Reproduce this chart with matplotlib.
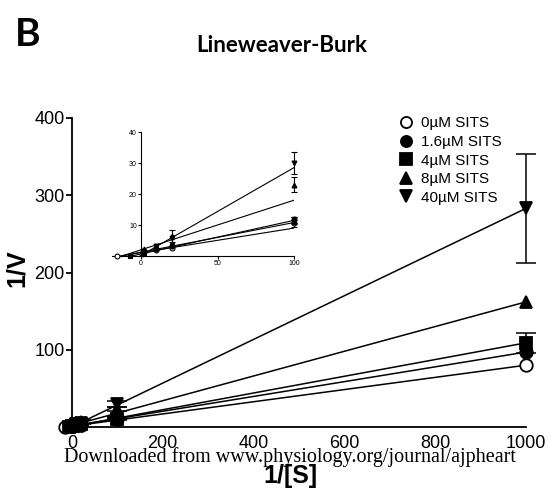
import numpy as np
import matplotlib
matplotlib.use("Agg")
import matplotlib.pyplot as plt
from matplotlib.lines import Line2D

# 1/[S] values and 1/V means for each SITS concentration
inv_s = [1, 2, 10, 20, 100, 1000]
labels = ["0µM SITS", "1.6µM SITS", "4µM SITS", "8µM SITS", "40µM SITS"]
markers = ["o", "o", "s", "^", "v"]
filled = [False, True, True, True, True]

inv_v = [
    [1.1, 1.3, 2.0, 2.7, 10.5, 80],
    [1.3, 1.5, 2.3, 3.2, 12.0, 97],
    [0.8, 1.0, 2.6, 3.5, 11.0, 109],
    [2.0, 2.3, 3.0, 6.5, 23.0, 162],
    [0.6, 0.9, 3.3, 5.8, 30.0, 283],
]
inv_v_err = [
    [0, 0, 0, 0, 0.3, 0],
    [0, 0, 0, 0, 0.5, 0],
    [0, 0, 0, 0, 1.5, 13],
    [0, 0, 0, 2.0, 2.5, 0],
    [0, 0, 0, 0, 3.7, 71],
]
# points on the x axis (x-intercepts) shown for two series
x_int_pts = {0: -15.5, 2: -7.0}

# linear regression lines (slope, intercept)
slopes = [0.0789, 0.0958, 0.1083, 0.160, 0.2828]
intercepts = [1.11, 1.22, 0.67, 2.0, 0.22]

plt.rcParams["font.family"] = ["Liberation Sans", "DejaVu Sans"]

fig = plt.figure(figsize=(5.53, 4.9), dpi=100)
W, H = 553, 490


def px_axes(x0, x1, y0, y1):
    return fig.add_axes([x0 / W, 1 - y1 / H, (x1 - x0) / W, (y1 - y0) / H])


def draw(ax, ms, cap, lw, ew, big):
    for i in range(len(labels)):
        m, b = slopes[i], intercepts[i]
        xl = np.array([-b / m, 1000])
        ax.plot(xl, m * xl + b, color="black", lw=lw, zorder=2, clip_on=not big)
        fc = "black" if filled[i] else "white"
        ax.plot(inv_s, inv_v[i], markers[i], ms=ms, mec="black", mfc=fc,
                mew=ew, zorder=3, clip_on=False)
        xe = [x for x, e in zip(inv_s, inv_v_err[i]) if e > 0]
        ye = [y for y, e in zip(inv_v[i], inv_v_err[i]) if e > 0]
        ee = [e for e in inv_v_err[i] if e > 0]
        if xe:
            ax.errorbar(xe, ye, yerr=ee, fmt="none", ecolor="black",
                        capsize=cap, elinewidth=lw, capthick=lw, zorder=2.5,
                        clip_on=False)
        if i in x_int_pts:
            ax.plot([x_int_pts[i]], [0], markers[i], ms=ms, mec="black",
                    mfc=fc, mew=ew, zorder=3, clip_on=False)


# main axes
ax = px_axes(65, 526, 118, 427)
draw(ax, 9, 7, 1.1, 1.3, True)
ax.set_xlim(-15, 1000)
ax.set_ylim(0, 400)
ax.spines["left"].set_position(("data", 0))
ax.spines["top"].set_visible(False)
ax.spines["right"].set_visible(False)
for s in ["left", "bottom"]:
    ax.spines[s].set_linewidth(1.3)
ax.set_xticks([0, 200, 400, 600, 800, 1000])
ax.set_yticks([100, 200, 300, 400])
ax.tick_params(axis="y", length=4, width=1.3, pad=1, labelsize=13)
ax.tick_params(axis="x", length=0, pad=6, labelsize=13)

handles = [Line2D([], [], ls="none", marker=markers[i], ms=8, mec="black",
                  mew=1.3, mfc="black" if filled[i] else "white")
           for i in range(len(labels))]
ax.legend(handles, labels, loc="upper left", bbox_to_anchor=(0.71, 1.03),
          frameon=False, fontsize=11, handlelength=0.8, handletextpad=0.6,
          labelspacing=0.3, borderpad=0)

# inset
ins = px_axes(112, 294, 132, 256)
draw(ins, 3.5, 2.5, 0.8, 0.8, False)
ins.set_xlim(-19, 100)
ins.set_ylim(0, 40)
ins.spines["left"].set_position(("data", 0))
ins.spines["top"].set_visible(False)
ins.spines["right"].set_visible(False)
for s in ["left", "bottom"]:
    ins.spines[s].set_linewidth(0.8)
ins.set_xticks([0, 50, 100])
ins.set_yticks([10, 20, 30, 40])
ins.tick_params(length=2, width=0.8, pad=1, labelsize=5)
ins.patch.set_alpha(0)

fig.text(15 / W, 1 - 34 / H, "B", fontsize=28, fontweight="bold",
         family=["Lato", "DejaVu Sans"], va="center", ha="left")
fig.text(282 / W, 1 - 45 / H, "Lineweaver-Burk", fontsize=16,
         fontweight="bold", family=["Lato", "DejaVu Sans"],
         va="center", ha="center")
fig.text(17 / W, 1 - 268 / H, "1/V", fontsize=18, fontweight="bold",
         rotation=90, va="center", ha="center")
fig.text(290 / W, 1 - 476 / H, "1/[S]", fontsize=18, fontweight="bold",
         va="center", ha="center")
fig.text(290 / W, 1 - 457 / H,
         "Downloaded from www.physiology.org/journal/ajpheart",
         fontsize=14.5, family=["Liberation Serif"], va="center", ha="center")

fig.savefig("out.png", dpi=100)
